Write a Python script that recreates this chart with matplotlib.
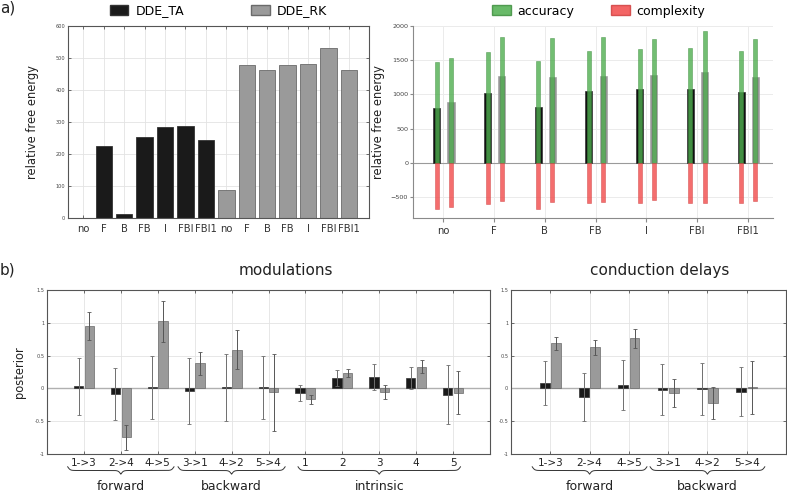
import numpy as np
import matplotlib
matplotlib.use("Agg")
import matplotlib.pyplot as plt
from matplotlib.patches import Patch
from matplotlib.transforms import blended_transform_factory

plt.rcParams['font.family'] = ['DejaVu Sans']

# === data ===
models = ['no', 'F', 'B', 'FB', 'I', 'FBI', 'FBI1']
rel_fe_ta = [0, 225, 12, 253, 285, 288, 243]
rel_fe_rk = [86, 478, 462, 477, 480, 530, 462]

fe_ta = [798, 1017, 813, 1051, 1080, 1085, 1036]
acc_ta = [1474, 1620, 1489, 1640, 1669, 1674, 1635]
comp_ta = [-676, -608, -676, -589, -594, -589, -594]
fe_rk = [886, 1275, 1255, 1270, 1280, 1328, 1260]
acc_rk = [1528, 1839, 1830, 1839, 1815, 1922, 1810]
comp_rk = [-652, -564, -574, -569, -540, -594, -555]

mod_labels = ['1->3', '2->4', '4->5', '3->1', '4->2', '5->4', '1', '2', '3', '4', '5']
mod_ta = [0.035, -0.087, 0.017, -0.04, 0.015, 0.015, -0.071, 0.16, 0.178, 0.16, -0.095]
mod_ta_err = [0.435, 0.40, 0.48, 0.51, 0.515, 0.485, 0.127, 0.12, 0.20, 0.17, 0.455]
mod_rk = [0.955, -0.747, 1.02, 0.385, 0.59, -0.062, -0.168, 0.23, -0.055, 0.33, -0.066]
mod_rk_err = [0.21, 0.19, 0.31, 0.175, 0.30, 0.58, 0.065, 0.06, 0.10, 0.10, 0.33]
mod_groups = [('forward', 0, 2, 0.44), ('backward', 3, 5, 0.45), ('intrinsic', 6, 10, 0.2)]

cd_labels = ['1->3', '2->4', '4->5', '3->1', '4->2', '5->4']
cd_ta = [0.076, -0.13, 0.046, -0.02, -0.008, -0.048]
cd_ta_err = [0.335, 0.36, 0.38, 0.385, 0.39, 0.38]
cd_rk = [0.686, 0.625, 0.762, -0.074, -0.222, 0.015]
cd_rk_err = [0.105, 0.12, 0.145, 0.21, 0.245, 0.41]
cd_groups = [('forward', 0, 2, 0.46), ('backward', 3, 5, 0.46)]

BLACK = '#1a1a1a'
GRAY = '#9a9a9a'
GREEN = '#4fae4f'
RED = '#f24a4a'

W, H = 787, 492
fig = plt.figure(figsize=(W / 100, H / 100), dpi=100)


def px_axes(l, t, r, b):
    return fig.add_axes([l / W, 1 - b / H, (r - l) / W, (b - t) / H])


def matlab_style(ax):
    for s in ax.spines.values():
        s.set_color('#555555')
        s.set_linewidth(0.8)
    ax.tick_params(direction='in', top=True, right=True, length=2.5, width=0.6,
                   color='#555555')
    ax.grid(True, color='#e3e3e3', lw=0.6)
    ax.set_axisbelow(True)


def draw_brace(ax, x0, x1, y_top, height, px_per_unit):
    trans = blended_transform_factory(ax.transData, ax.transAxes)
    n = 301
    beta = 0.8 * px_per_unit
    x = np.linspace(x0, x1, n)
    xh = x[:n // 2 + 1]
    yh = 1 / (1 + np.exp(-beta * (xh - xh[0]))) + 1 / (1 + np.exp(-beta * (xh - xh[-1])))
    y = np.concatenate((yh, yh[-2::-1]))
    ax.plot(x, y_top - (y - 0.5) * height, color='#333333', lw=0.7,
            transform=trans, clip_on=False)


# === a) left: relative free energy ===
ax1 = px_axes(68, 26, 369, 218)
matlab_style(ax1)
pos_ta = np.arange(1, len(models) + 1)
pos_rk = pos_ta + len(models)
ax1.bar(pos_ta, rel_fe_ta, width=0.8, color=BLACK, edgecolor='#333333', lw=0.6)
ax1.bar(pos_rk, rel_fe_rk, width=0.8, color=GRAY, edgecolor='#6a6a6a', lw=0.6)
ax1.set_xlim(0.25, 14.98)
ax1.set_ylim(0, 600)
ax1.set_yticks(np.arange(0, 601, 100))
ax1.set_xticks(np.concatenate([pos_ta, pos_rk]))
ax1.set_xticklabels(models + models, fontsize=7.2, color='#333333')
ax1.tick_params(axis='y', labelsize=3.6, labelcolor='#444444', pad=2)
ax1.tick_params(axis='x', pad=4)
ax1.set_ylabel('relative free energy', fontsize=8.3, color='#222222')
ax1.yaxis.set_label_coords(-0.096, 0.5)
leg1 = ax1.legend(handles=[Patch(facecolor=BLACK, edgecolor='#333333', label='DDE_TA'),
                           Patch(facecolor=GRAY, edgecolor='#6a6a6a', label='DDE_RK')],
                  loc='center', bbox_to_anchor=(0.5, 1.08), ncol=2, frameon=False,
                  fontsize=9, handlelength=1.5, handleheight=0.9, handletextpad=0.6,
                  columnspacing=5.3)

# === a) right: accuracy / complexity ===
ax2 = px_axes(413, 26, 773, 218)
x = np.arange(len(models))
off_ta, off_rk = -0.13, 0.15
ax2.bar(x + off_ta, fe_ta, width=0.14, color='#111111', edgecolor='#333333', lw=0.5, zorder=2)
ax2.bar(x + off_rk, fe_rk, width=0.14, color='#8a8a8a', edgecolor='#a0a0a0', lw=0.5,
        alpha=0.9, zorder=2)
for o, acc, comp in [(off_ta, acc_ta, comp_ta), (off_rk, acc_rk, comp_rk)]:
    ax2.bar(x + o, acc, width=0.08, color=GREEN, edgecolor='#3f8f3f', lw=0.4,
            alpha=0.8, zorder=3)
    ax2.bar(x + o, comp, width=0.08, color=RED, edgecolor='#d04040', lw=0.4,
            alpha=0.8, zorder=3)
ax2.axhline(0, color='#9a9a9a', lw=0.8, zorder=1)
ax2.set_xlim(-0.6, 6.5)
ax2.set_ylim(-807, 2000)
ax2.set_yticks(np.arange(-500, 2001, 500))
ax2.set_xticks(x)
ax2.set_xticklabels(models, fontsize=7.2, color='#333333')
ax2.grid(True, color='#ebebeb', lw=0.7)
ax2.set_axisbelow(True)
for s in ['top', 'right']:
    ax2.spines[s].set_visible(False)
for s in ['left', 'bottom']:
    ax2.spines[s].set_color('#8a8a8a')
    ax2.spines[s].set_linewidth(0.8)
ax2.tick_params(axis='y', labelsize=4.6, labelcolor='#444444', length=2,
                color='#8a8a8a', pad=1.5)
ax2.tick_params(axis='x', length=3, color='#8a8a8a', pad=2.5)
ax2.set_ylabel('relative free energy', fontsize=8.3, color='#222222')
ax2.yaxis.set_label_coords(-0.078, 0.5)
ax2.legend(handles=[Patch(facecolor=GREEN, edgecolor='#3f8f3f', alpha=0.85, label='accuracy'),
                    Patch(facecolor=RED, edgecolor='#d04040', alpha=0.85, label='complexity')],
           loc='center', bbox_to_anchor=(0.515, 1.078), ncol=2, frameon=False,
           fontsize=9, handlelength=1.5, handleheight=0.9, handletextpad=0.5,
           columnspacing=3.0)


# === b) posteriors ===
def posterior_panel(ax, labels, ta, ta_err, rk, rk_err, groups, title, px_per_unit):
    matlab_style(ax)
    pos = np.arange(1, len(labels) + 1)
    ax.bar(pos - 0.145, ta, width=0.25, color=BLACK, edgecolor='#333333', lw=0.5, zorder=2)
    ax.bar(pos + 0.145, rk, width=0.25, color=GRAY, edgecolor='#6a6a6a', lw=0.5, zorder=2)
    ax.errorbar(pos - 0.145, ta, yerr=ta_err, fmt='none', ecolor='#6e6e6e',
                elinewidth=0.7, capsize=1.6, capthick=0.6, zorder=3)
    ax.errorbar(pos + 0.145, rk, yerr=rk_err, fmt='none', ecolor='#555555',
                elinewidth=0.7, capsize=1.6, capthick=0.6, zorder=3)
    ax.axhline(0, color='#b0b0b0', lw=1.0, zorder=1)
    ax.set_xlim(0, len(labels) + 1)
    ax.set_ylim(-1, 1.5)
    ax.set_yticks([-1, -0.5, 0, 0.5, 1, 1.5])
    ax.set_yticklabels(['-1', '-0.5', '0', '0.5', '1', '1.5'])
    ax.set_xticks(pos)
    ax.set_xticklabels(labels, fontsize=7.5, color='#222222')
    ax.tick_params(axis='y', labelsize=3.6, labelcolor='#444444', pad=2)
    ax.tick_params(axis='x', pad=3)
    ax.set_title(title, fontsize=11, x=0.54, pad=11, color='#222222')
    for name, i0, i1, pad in groups:
        draw_brace(ax, pos[i0] - pad, pos[i1] + pad, -0.078, 0.045, px_per_unit)
        trans = blended_transform_factory(ax.transData, ax.transAxes)
        ax.text((pos[i0] + pos[i1]) / 2, -0.2, name, transform=trans, ha='center',
                va='center', fontsize=9, color='#222222')


ax3 = px_axes(47, 290, 490, 454)
posterior_panel(ax3, mod_labels, mod_ta, mod_ta_err, mod_rk, mod_rk_err, mod_groups,
                'modulations', 443 / 12)
ax3.set_ylabel('posterior', fontsize=8.3, color='#222222')
ax3.yaxis.set_label_coords(-0.048, 0.5)

ax4 = px_axes(511, 290, 786, 454)
posterior_panel(ax4, cd_labels, cd_ta, cd_ta_err, cd_rk, cd_rk_err, cd_groups,
                'conduction delays', 275 / 7)

fig.text(8 / W, 1 - 8 / H, 'a)', fontsize=11, ha='center', va='center', color='#222222')
fig.text(7 / W, 1 - 270 / H, 'b)', fontsize=11, ha='center', va='center', color='#222222')

fig.savefig('out.png', dpi=100)
